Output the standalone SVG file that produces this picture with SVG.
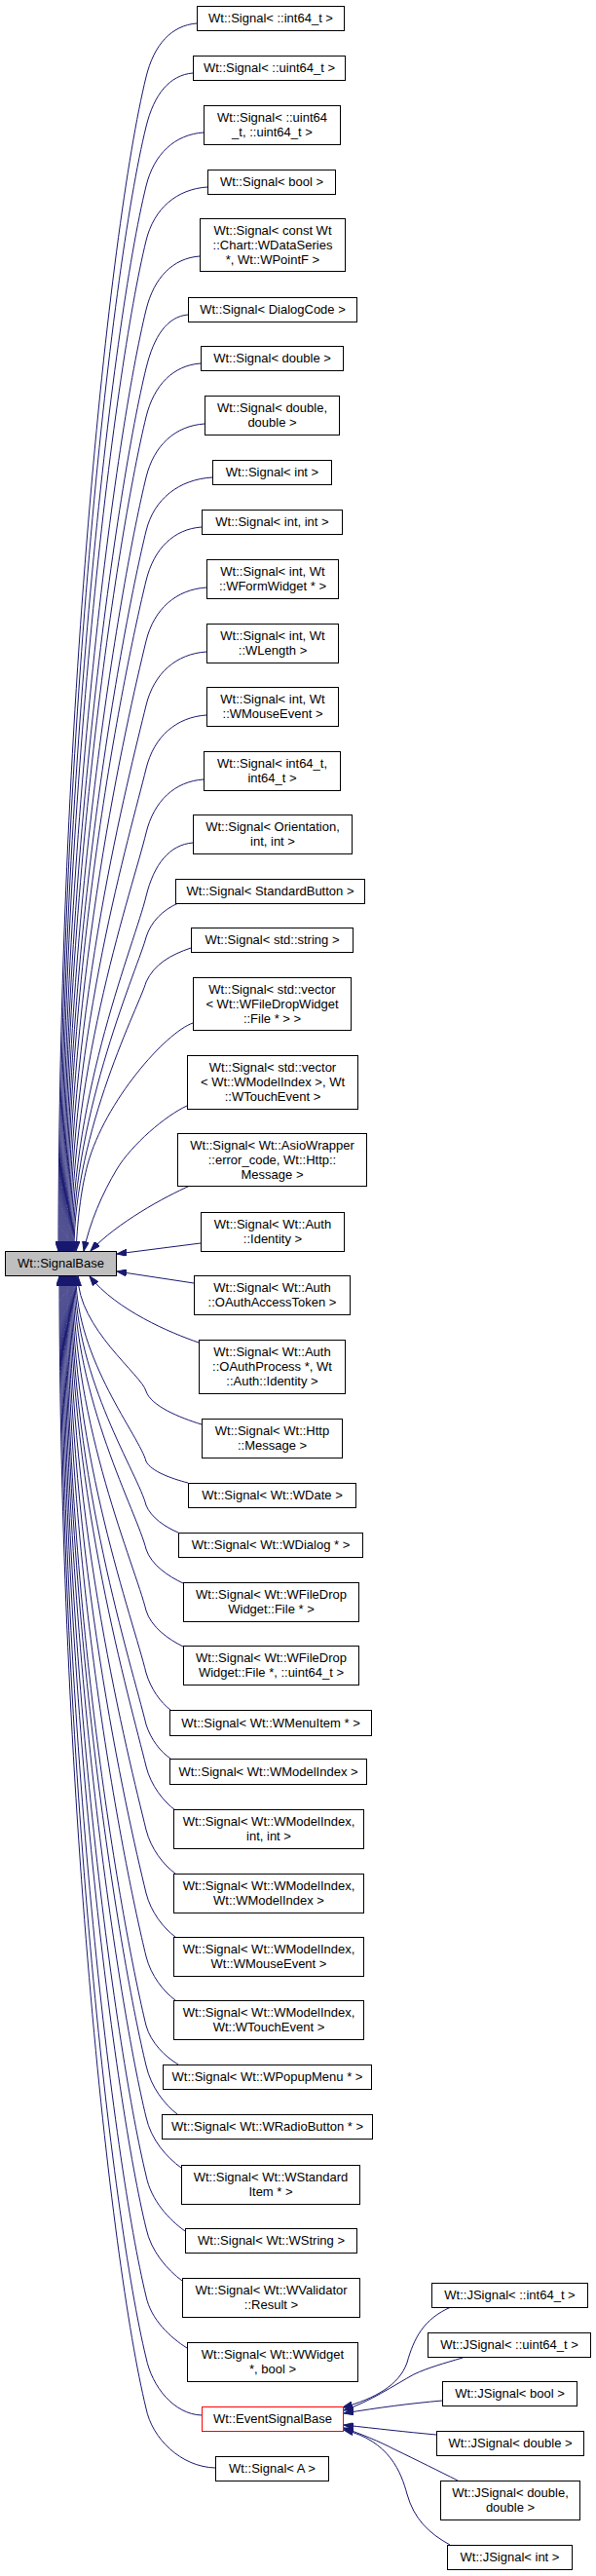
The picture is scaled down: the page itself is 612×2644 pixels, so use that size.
<svg xmlns="http://www.w3.org/2000/svg" width="612" height="2644" viewBox="0 0 612 2644">
<style>
.n rect{fill:#fff;stroke:#000;stroke-width:1}
.base rect{fill:#bfbfbf}
.red rect{stroke:#ff0000}
text{font-family:"Liberation Sans",Arial,sans-serif;font-size:13px;text-anchor:middle;fill:#000}
#edges path{fill:none;stroke:#191970;stroke-width:1;marker-end:url(#a)}
</style>
<defs>
<marker id="a" viewBox="0 0 10 7" refX="10" refY="3.5" markerWidth="10" markerHeight="7" markerUnits="userSpaceOnUse" orient="auto"><path d="M0,0 L10,3.5 L0,7 Z" fill="#191970" stroke="#191970" stroke-width="1"/></marker>
</defs>
<rect width="612" height="2644" fill="#fff"/>
<g id="edges">
<path d="M202,24 C176,26 158,46 150,79 C111.4,238 60,742 60,1284"/>
<path d="M198,75 C174,77 158,97 150,130 C113,282 61,765 61,1284"/>
<path d="M209,136 C179.5,138 158,158 150,191 C115,335 62,792 62,1284"/>
<path d="M213,192 C181.5,194 158,214 150,247 C116.8,384 63,817 63,1284"/>
<path d="M205,263 C177.5,265 158,285 150,318 C119,445.5 64,849 64,1284"/>
<path d="M193,323 C171.5,325 158,345 150,378 C121,497.6 65,876 65,1284"/>
<path d="M206,373 C178,375 158,395 150,428 C122.6,541 66,899 66,1284"/>
<path d="M210,435 C180,437 158,457 150,490 C124.6,595 67,927 67,1284"/>
<path d="M218,490 C184,492 158,512 150,545 C126.4,642.5 68,951.5 68,1284"/>
<path d="M207,541 C178.5,543 158,563 150,596 C128,687 69,974 69,1284"/>
<path d="M212,603 C181,605 158,625 150,658 C130,740.6 70,1002 70,1284"/>
<path d="M212,669 C181,671 158,691 150,724 C132,798 71,1032 71,1284"/>
<path d="M212,734 C181,736 158,756 150,789 C134.2,854 72,1061 72,1284"/>
<path d="M209,800 C179.5,802 158,822 150,855 C136.3,911.6 73,1091 73,1284"/>
<path d="M198,865 C174,867 158,887 150,920 C138.4,968 74,1120 74,1284"/>
<path d="M183,927 C167,934 155,946 150,962 C143,990 75,1140 75,1284"/>
<path d="M196,973 C175,980 158,990 150,1008 C144,1030 76,1160 76,1284"/>
<path d="M198,1050 C170,1060 108,1130 90,1195 C84,1218 80,1245 78,1284"/>
<path d="M192,1135 C170,1145 135,1175 120,1200 C105,1225 92,1255 86,1284"/>
<path d="M195,1217 C170,1228 120,1255 93,1284"/>
<path d="M206,1276 L120,1287"/>
<path d="M199,1317 L120,1305"/>
<path d="M204,1378 C175,1368 120,1345 92,1310"/>
<path d="M207,1462 C184.2,1455 155,1443 150,1428 C146.2,1412 80,1363 80,1310"/>
<path d="M193,1522 C175.8,1517.6 155,1510 150,1500 C143.9,1475 78,1395.5 78,1310"/>
<path d="M183,1573 C169.8,1567.4 155,1557.6 150,1545 C142.5,1514 77,1416 77,1310"/>
<path d="M188,1625 C172.8,1618 155,1605.8 150,1590 C141,1553 76,1436 76,1310"/>
<path d="M188,1690 C172.8,1682.6 155,1669.7 150,1653 C139,1607.7 75,1464 75,1310"/>
<path d="M175,1755 C165,1747.4 155,1734 150,1717 C137,1663 74,1493 74,1310"/>
<path d="M175,1805 C165,1798 155,1785.8 150,1770 C135.3,1709 73,1517 73,1310"/>
<path d="M180,1858 C168,1849 155,1833 150,1813 C133.9,1746.6 72,1536 72,1310"/>
<path d="M180,1923 C168,1914 155,1898 150,1878 C131.8,1803 71,1565.6 71,1310"/>
<path d="M180,1988 C168,1979 155,1963 150,1943 C129.7,1859.4 70,1595 70,1310"/>
<path d="M180,2053 C168,2044 155,2028 150,2008 C127.7,1916 69,1624 69,1310"/>
<path d="M183,2119 C169.8,2111 155,2097 150,2079 C125.4,1977.5 68,1656 68,1310"/>
<path d="M182,2170 C169.2,2160 155,2142.5 150,2120 C124.1,2013 67,1674.5 67,1310"/>
<path d="M186,2225 C171.6,2214.6 155,2196.4 150,2173 C122.4,2059 66,1698 66,1310"/>
<path d="M190,2290 C174,2278.6 155,2258.7 150,2233 C120.5,2111 65,1725 65,1310"/>
<path d="M187,2341 C172.2,2330 155,2311 150,2287 C118.7,2158 64,1749.7 64,1310"/>
<path d="M192,2410 C175.2,2399.4 155,2380.9 150,2357 C116.5,2218.8 63,1781 63,1310"/>
<path d="M207,2479 C178.5,2478 156,2449.5 150,2420 C114.5,2273.5 62,1809.5 62,1310"/>
<path d="M221,2533 C185.5,2532 156,2502.5 150,2472 C112.8,2318.6 61,1833 61,1310"/>
<path d="M463,2368 C435,2380 425,2400 418,2425 C410,2448 385,2462 352,2471"/>
<path d="M475,2420 C455,2426 440,2430 425,2437 C405,2448 380,2465 353,2474"/>
<path d="M454,2464 C420,2467 390,2471 353,2477"/>
<path d="M448,2499 C415,2496 390,2493 353,2489"/>
<path d="M470,2546 C450,2536 430,2526 405,2514 C390,2506 370,2498 353,2492"/>
<path d="M462,2612 C440,2600 425,2585 418,2560 C412,2538 400,2505 353,2494"/>
</g>
<g id="SignalBase" class="n base"><rect x="5.5" y="1284.5" width="114" height="25"/><text x="62.5" y="1301">Wt::SignalBase</text></g>
<g id="n1" class="n"><rect x="202.5" y="6.5" width="151" height="25"/><text x="278" y="23">Wt::Signal&lt; ::int64_t &gt;</text></g>
<g id="n2" class="n"><rect x="198.5" y="57.5" width="156" height="25"/><text x="276.5" y="74">Wt::Signal&lt; ::uint64_t &gt;</text></g>
<g id="n3" class="n"><rect x="209.5" y="108.5" width="140" height="40"/><text x="279.5" y="125">Wt::Signal&lt; ::uint64</text><text x="279.5" y="140">_t, ::uint64_t &gt;</text></g>
<g id="n4" class="n"><rect x="213.5" y="174.5" width="131" height="25"/><text x="279" y="191">Wt::Signal&lt; bool &gt;</text></g>
<g id="n5" class="n"><rect x="205.5" y="224.5" width="149" height="54"/><text x="280" y="240.5">Wt::Signal&lt; const Wt</text><text x="280" y="255.5">::Chart::WDataSeries</text><text x="280" y="270.5"> *, Wt::WPointF &gt;</text></g>
<g id="n6" class="n"><rect x="193.5" y="305.5" width="173" height="25"/><text x="280" y="322">Wt::Signal&lt; DialogCode &gt;</text></g>
<g id="n7" class="n"><rect x="206.5" y="355.5" width="146" height="25"/><text x="279.5" y="372">Wt::Signal&lt; double &gt;</text></g>
<g id="n8" class="n"><rect x="210.5" y="406.5" width="138" height="40"/><text x="279.5" y="423">Wt::Signal&lt; double,</text><text x="279.5" y="438">double &gt;</text></g>
<g id="n9" class="n"><rect x="218.5" y="472.5" width="122" height="25"/><text x="279.5" y="489">Wt::Signal&lt; int &gt;</text></g>
<g id="n10" class="n"><rect x="207.5" y="523.5" width="144" height="25"/><text x="279.5" y="540">Wt::Signal&lt; int, int &gt;</text></g>
<g id="n11" class="n"><rect x="212.5" y="574.5" width="135" height="40"/><text x="280" y="591">Wt::Signal&lt; int, Wt</text><text x="280" y="606">::WFormWidget * &gt;</text></g>
<g id="n12" class="n"><rect x="212.5" y="640.5" width="135" height="40"/><text x="280" y="657">Wt::Signal&lt; int, Wt</text><text x="280" y="672">::WLength &gt;</text></g>
<g id="n13" class="n"><rect x="212.5" y="705.5" width="135" height="40"/><text x="280" y="722">Wt::Signal&lt; int, Wt</text><text x="280" y="737">::WMouseEvent &gt;</text></g>
<g id="n14" class="n"><rect x="209.5" y="771.5" width="140" height="40"/><text x="279.5" y="788">Wt::Signal&lt; int64_t,</text><text x="279.5" y="803">int64_t &gt;</text></g>
<g id="n15" class="n"><rect x="198.5" y="836.5" width="163" height="40"/><text x="280" y="853">Wt::Signal&lt; Orientation,</text><text x="280" y="868">int, int &gt;</text></g>
<g id="n16" class="n"><rect x="180.5" y="902.5" width="194" height="25"/><text x="277.5" y="919">Wt::Signal&lt; StandardButton &gt;</text></g>
<g id="n17" class="n"><rect x="196.5" y="952.5" width="166" height="25"/><text x="279.5" y="969">Wt::Signal&lt; std::string &gt;</text></g>
<g id="n18" class="n"><rect x="198.5" y="1003.5" width="162" height="54"/><text x="279.5" y="1019.5">Wt::Signal&lt; std::vector</text><text x="279.5" y="1034.5">&lt; Wt::WFileDropWidget</text><text x="279.5" y="1049.5">::File * &gt; &gt;</text></g>
<g id="n19" class="n"><rect x="192.5" y="1083.5" width="175" height="55"/><text x="280" y="1100">Wt::Signal&lt; std::vector</text><text x="280" y="1115">&lt; Wt::WModelIndex &gt;, Wt</text><text x="280" y="1130">::WTouchEvent &gt;</text></g>
<g id="n20" class="n"><rect x="182.5" y="1163.5" width="194" height="54"/><text x="279.5" y="1179.5">Wt::Signal&lt; Wt::AsioWrapper</text><text x="279.5" y="1194.5">::error_code, Wt::Http::</text><text x="279.5" y="1209.5">Message &gt;</text></g>
<g id="n21" class="n"><rect x="206.5" y="1244.5" width="147" height="40"/><text x="280" y="1261">Wt::Signal&lt; Wt::Auth</text><text x="280" y="1276">::Identity &gt;</text></g>
<g id="n22" class="n"><rect x="199.5" y="1309.5" width="160" height="40"/><text x="279.5" y="1326">Wt::Signal&lt; Wt::Auth</text><text x="279.5" y="1341">::OAuthAccessToken &gt;</text></g>
<g id="n23" class="n"><rect x="204.5" y="1375.5" width="150" height="55"/><text x="279.5" y="1392">Wt::Signal&lt; Wt::Auth</text><text x="279.5" y="1407">::OAuthProcess *, Wt</text><text x="279.5" y="1422">::Auth::Identity &gt;</text></g>
<g id="n24" class="n"><rect x="207.5" y="1456.5" width="144" height="40"/><text x="279.5" y="1473">Wt::Signal&lt; Wt::Http</text><text x="279.5" y="1488">::Message &gt;</text></g>
<g id="n25" class="n"><rect x="193.5" y="1522.5" width="172" height="25"/><text x="279.5" y="1539">Wt::Signal&lt; Wt::WDate &gt;</text></g>
<g id="n26" class="n"><rect x="183.5" y="1573.5" width="189" height="25"/><text x="278" y="1590">Wt::Signal&lt; Wt::WDialog * &gt;</text></g>
<g id="n27" class="n"><rect x="188.5" y="1624.5" width="180" height="40"/><text x="278.5" y="1641">Wt::Signal&lt; Wt::WFileDrop</text><text x="278.5" y="1656">Widget::File * &gt;</text></g>
<g id="n28" class="n"><rect x="188.5" y="1689.5" width="180" height="40"/><text x="278.5" y="1706">Wt::Signal&lt; Wt::WFileDrop</text><text x="278.5" y="1721">Widget::File *, ::uint64_t &gt;</text></g>
<g id="n29" class="n"><rect x="174.5" y="1755.5" width="207" height="26"/><text x="278" y="1772.5">Wt::Signal&lt; Wt::WMenuItem * &gt;</text></g>
<g id="n30" class="n"><rect x="174.5" y="1805.5" width="202" height="26"/><text x="275.5" y="1822.5">Wt::Signal&lt; Wt::WModelIndex &gt;</text></g>
<g id="n31" class="n"><rect x="178.5" y="1857.5" width="195" height="40"/><text x="276" y="1874">Wt::Signal&lt; Wt::WModelIndex,</text><text x="276" y="1889">int, int &gt;</text></g>
<g id="n32" class="n"><rect x="178.5" y="1923.5" width="195" height="40"/><text x="276" y="1940">Wt::Signal&lt; Wt::WModelIndex,</text><text x="276" y="1955">Wt::WModelIndex &gt;</text></g>
<g id="n33" class="n"><rect x="178.5" y="1988.5" width="195" height="40"/><text x="276" y="2005">Wt::Signal&lt; Wt::WModelIndex,</text><text x="276" y="2020">Wt::WMouseEvent &gt;</text></g>
<g id="n34" class="n"><rect x="178.5" y="2053.5" width="195" height="40"/><text x="276" y="2070">Wt::Signal&lt; Wt::WModelIndex,</text><text x="276" y="2085">Wt::WTouchEvent &gt;</text></g>
<g id="n35" class="n"><rect x="167.5" y="2119.5" width="214" height="25"/><text x="274.5" y="2136">Wt::Signal&lt; Wt::WPopupMenu * &gt;</text></g>
<g id="n36" class="n"><rect x="166.5" y="2170.5" width="216" height="25"/><text x="274.5" y="2187">Wt::Signal&lt; Wt::WRadioButton * &gt;</text></g>
<g id="n37" class="n"><rect x="186.5" y="2222.5" width="183" height="40"/><text x="278" y="2239">Wt::Signal&lt; Wt::WStandard</text><text x="278" y="2254">Item * &gt;</text></g>
<g id="n38" class="n"><rect x="190.5" y="2287.5" width="176" height="25"/><text x="278.5" y="2304">Wt::Signal&lt; Wt::WString &gt;</text></g>
<g id="n39" class="n"><rect x="187.5" y="2338.5" width="182" height="40"/><text x="278.5" y="2355">Wt::Signal&lt; Wt::WValidator</text><text x="278.5" y="2370">::Result &gt;</text></g>
<g id="n40" class="n"><rect x="192.5" y="2404.5" width="175" height="40"/><text x="280" y="2421">Wt::Signal&lt; Wt::WWidget</text><text x="280" y="2436">*, bool &gt;</text></g>
<g id="EventSignalBase" class="n red"><rect x="207.5" y="2470.5" width="145" height="25"/><text x="280" y="2487">Wt::EventSignalBase</text></g>
<g id="n42" class="n"><rect x="221.5" y="2521.5" width="116" height="25"/><text x="279.5" y="2538">Wt::Signal&lt; A &gt;</text></g>
<g id="j1" class="n"><rect x="443.5" y="2343.5" width="160" height="25"/><text x="523.5" y="2360">Wt::JSignal&lt; ::int64_t &gt;</text></g>
<g id="j2" class="n"><rect x="439.5" y="2394.5" width="167" height="25"/><text x="523" y="2411">Wt::JSignal&lt; ::uint64_t &gt;</text></g>
<g id="j3" class="n"><rect x="454.5" y="2444.5" width="138" height="25"/><text x="523.5" y="2461">Wt::JSignal&lt; bool &gt;</text></g>
<g id="j4" class="n"><rect x="448.5" y="2495.5" width="151" height="25"/><text x="524" y="2512">Wt::JSignal&lt; double &gt;</text></g>
<g id="j5" class="n"><rect x="452.5" y="2546.5" width="143" height="40"/><text x="524" y="2563">Wt::JSignal&lt; double,</text><text x="524" y="2578">double &gt;</text></g>
<g id="j6" class="n"><rect x="459.5" y="2612.5" width="128" height="25"/><text x="523.5" y="2629">Wt::JSignal&lt; int &gt;</text></g>
</svg>
